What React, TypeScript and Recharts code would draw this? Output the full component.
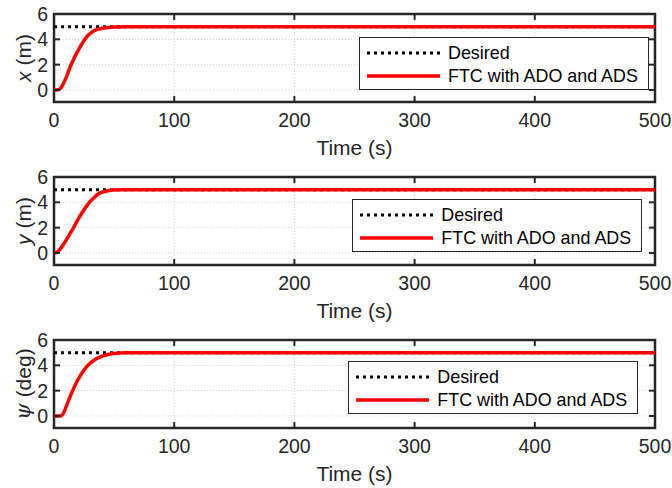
import React from 'react'
import {
  LineChart,
  Line,
  XAxis,
  YAxis,
  CartesianGrid,
  ReferenceArea,
  ReferenceLine,
  Legend,
  Label,
} from 'recharts'

// time samples (s) and the responses
const TIME = [
  0, 2, 4, 6, 8, 10, 12, 14, 16, 18, 20, 22, 24, 26, 28, 30, 33, 36, 40, 45, 50, 55, 60, 70, 80,
  100, 150, 200, 250, 300, 350, 400, 450, 500,
]
const X_FTC = [
  0, 0, 0.03, 0.2, 0.55, 0.95, 1.45, 1.95, 2.35, 2.75, 3.1, 3.45, 3.75, 4.05, 4.28, 4.45, 4.65,
  4.78, 4.87, 4.93, 4.97, 4.98, 4.99, 5, 5, 5, 5, 5, 5, 5, 5, 5, 5, 5,
]
const Y_FTC = [
  0, 0.05, 0.2, 0.42, 0.7, 1.0, 1.32, 1.64, 1.95, 2.3, 2.65, 2.98, 3.28, 3.56, 3.82, 4.05, 4.35,
  4.6, 4.8, 4.92, 4.97, 4.99, 5, 5, 5, 5, 5, 5, 5, 5, 5, 5, 5, 5,
]
const PSI_FTC = [
  0, 0, 0, 0.02, 0.25, 0.7, 1.2, 1.68, 2.1, 2.5, 2.88, 3.2, 3.5, 3.75, 3.98, 4.15, 4.38, 4.56,
  4.72, 4.86, 4.93, 4.97, 4.99, 5, 5, 5, 5, 5, 5, 5, 5, 5, 5, 5,
]
const DESIRED = 5

const X_TICKS = [0, 100, 200, 300, 400, 500]
const Y_TICKS = [0, 2, 4, 6]
const SERIES_NAMES = ['Desired', 'FTC with ADO and ADS']

const X_DOMAIN: [number, number] = [0, 500]
const Y_DOMAIN: [number, number] = [-0.95, 6]
const TICK_LEN_X = 5 // in data units, ~6px
const TICK_LEN_Y = 0.47

const AXIS_COLOR = '#262626'
const FONT = '"Liberation Sans", Arial, Helvetica, sans-serif'
const RED = '#ff0000'

function LegendBox() {
  return (
    <div
      style={{
        position: 'relative',
        width: 290,
        height: 53,
        boxSizing: 'border-box',
        border: `1.3px solid ${AXIS_COLOR}`,
        background: '#fff',
        fontFamily: FONT,
        fontSize: 17.9,
        color: '#000',
      }}
    >
      {SERIES_NAMES.map((name, i) => (
        <div key={name} style={{ position: 'absolute', left: 0, top: i === 0 ? 15 : 37.5 }}>
          <svg width={80} height={10} style={{ position: 'absolute', left: 7, top: -5 }}>
            {i === 0 ? (
              <line x1={0} x2={73} y1={5} y2={5} stroke="#000" strokeWidth={3} strokeDasharray="3 4" />
            ) : (
              <line x1={0} x2={73} y1={5} y2={5} stroke={RED} strokeWidth={3.5} />
            )}
          </svg>
          <span
            style={{ position: 'absolute', left: 88, top: -11, whiteSpace: 'nowrap', lineHeight: '22px' }}
          >
            {name}
          </span>
        </div>
      ))}
    </div>
  )
}

function YLabel({ viewBox, name, unit, greek }: any) {
  const cx = 23
  const cy = viewBox.y + viewBox.height / 2
  return (
    <text
      x={cx}
      y={cy}
      transform={`rotate(-90 ${cx} ${cy})`}
      textAnchor="middle"
      dominantBaseline="central"
      fontSize={21}
      fill={AXIS_COLOR}
      fontFamily={FONT}
    >
      <tspan fontStyle="italic" fontFamily={greek ? '"DejaVu Serif", serif' : FONT}>
        {name}
      </tspan>
      {` (${unit})`}
    </text>
  )
}

function Panel({ values, name, unit, greek, top, legendLeft, legendTop }: any) {
  const data = TIME.map((t, i) => ({ t, desired: DESIRED, ftc: values[i] }))
  const tickStyle = { fontSize: 19.5, fill: AXIS_COLOR, fontFamily: FONT }

  return (
    <div style={{ position: 'absolute', left: 0, top }}>
      <LineChart width={672} height={163} data={data} margin={{ top: 14, right: 17, bottom: 0, left: 0 }}>
        <CartesianGrid stroke="#d2d2d2" strokeDasharray="1 2" />
        <XAxis
          dataKey="t"
          type="number"
          domain={X_DOMAIN}
          ticks={X_TICKS}
          interval={0}
          height={61}
          axisLine={false}
          tickLine={false}
          tickSize={6}
          tickMargin={5}
          tick={tickStyle}
        >
          <Label
            value="Time (s)"
            position="insideBottom"
            offset={8}
            style={{ fontSize: 21, fill: AXIS_COLOR, fontFamily: FONT }}
          />
        </XAxis>
        <YAxis
          type="number"
          domain={Y_DOMAIN}
          ticks={Y_TICKS}
          interval={0}
          width={54}
          axisLine={false}
          tickLine={false}
          tickSize={4}
          tickMargin={2}
          tick={tickStyle}
        >
          <Label content={(p: any) => <YLabel viewBox={p.viewBox} name={name} unit={unit} greek={greek} />} />
        </YAxis>
        <Line
          type="monotone"
          dataKey="desired"
          stroke="#000"
          strokeWidth={3}
          strokeDasharray="3 4"
          dot={false}
          isAnimationActive={false}
        />
        <Line
          type="monotone"
          dataKey="ftc"
          stroke={RED}
          strokeWidth={3.5}
          dot={false}
          isAnimationActive={false}
        />
        <ReferenceArea
          x1={X_DOMAIN[0]}
          x2={X_DOMAIN[1]}
          y1={Y_DOMAIN[0]}
          y2={Y_DOMAIN[1]}
          fill="none"
          stroke={AXIS_COLOR}
          strokeWidth={2.5}
          ifOverflow="visible"
        />
        {X_TICKS.slice(1, -1).map((x) => (
          <ReferenceLine
            key={`xb-${x}`}
            segment={[{ x, y: Y_DOMAIN[0] }, { x, y: Y_DOMAIN[0] + TICK_LEN_Y }]}
            stroke={AXIS_COLOR}
            strokeWidth={2}
          />
        ))}
        {X_TICKS.slice(1, -1).map((x) => (
          <ReferenceLine
            key={`xt-${x}`}
            segment={[{ x, y: Y_DOMAIN[1] }, { x, y: Y_DOMAIN[1] - TICK_LEN_Y }]}
            stroke={AXIS_COLOR}
            strokeWidth={2}
          />
        ))}
        {Y_TICKS.slice(0, -1).map((y) => (
          <ReferenceLine
            key={`yl-${y}`}
            segment={[{ x: X_DOMAIN[0], y }, { x: X_DOMAIN[0] + TICK_LEN_X, y }]}
            stroke={AXIS_COLOR}
            strokeWidth={2}
          />
        ))}
        {Y_TICKS.slice(0, -1).map((y) => (
          <ReferenceLine
            key={`yr-${y}`}
            segment={[{ x: X_DOMAIN[1], y }, { x: X_DOMAIN[1] - TICK_LEN_X, y }]}
            stroke={AXIS_COLOR}
            strokeWidth={2}
          />
        ))}
        <Legend
          layout="horizontal"
          align="center"
          verticalAlign="middle"
          wrapperStyle={{ left: legendLeft, top: legendTop, width: 290, height: 53 }}
          content={() => <LegendBox />}
        />
      </LineChart>
    </div>
  )
}

export default function App() {
  return (
    <div
      style={{
        position: 'absolute',
        left: 0,
        top: 0,
        width: 672,
        height: 488,
        background: '#fff',
        overflow: 'hidden',
      }}
    >
      <Panel values={X_FTC} name="x" unit="m" top={0} legendLeft={359} legendTop={37.3} />
      <Panel values={Y_FTC} name="y" unit="m" top={163.3} legendLeft={352.3} legendTop={36} />
      <Panel values={PSI_FTC} name="ψ" unit="deg" greek top={326.3} legendLeft={348.3} legendTop={35} />
    </div>
  )
}
